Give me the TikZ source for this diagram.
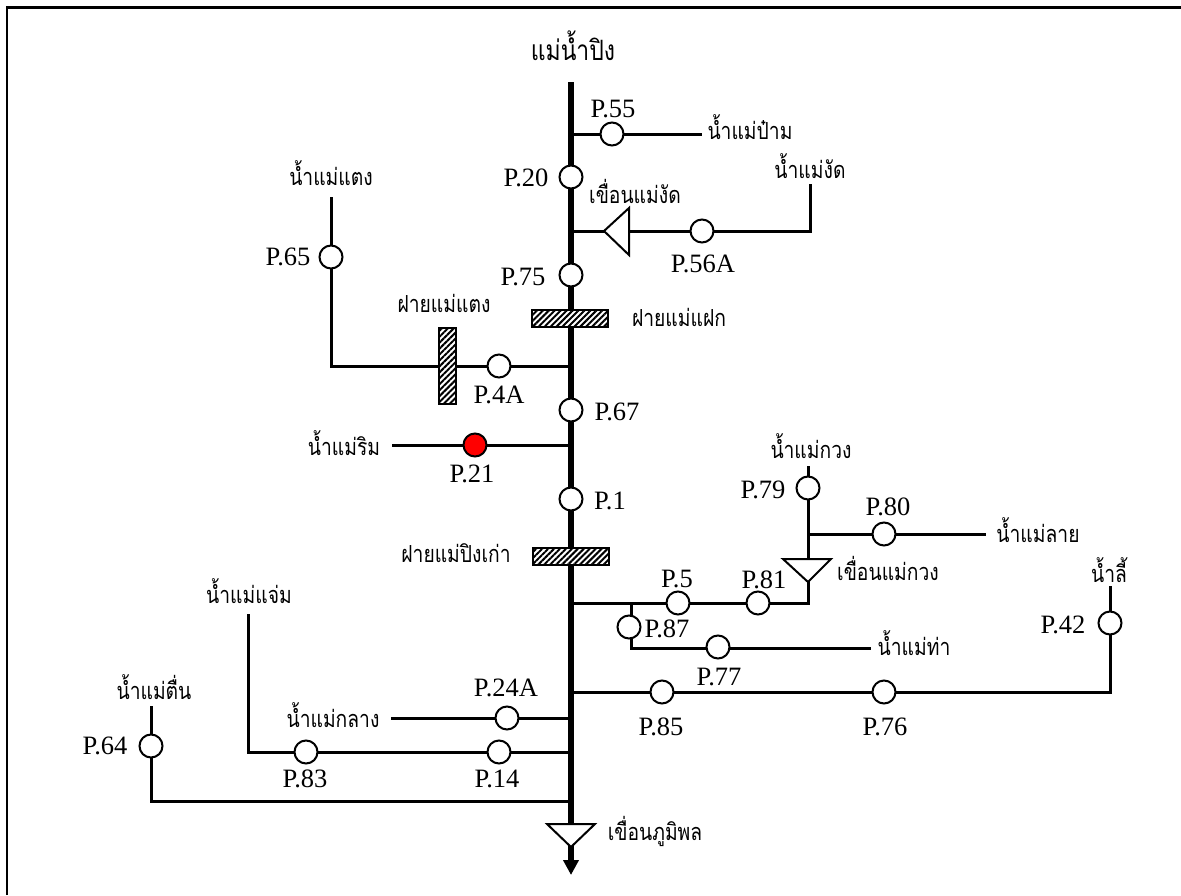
\documentclass[tikz,border=0pt]{standalone}
\usepackage{fontspec}
\setmainfont{Liberation Serif}
\newfontfamily\thaifont[Script=Thai,FakeStretch=0.82]{Loma}
\usetikzlibrary{arrows.meta,patterns.meta,backgrounds}
\tikzset{
  x=1pt,y=-1pt,
  gauge/.style={circle,draw=black,line width=2pt,fill=white,minimum size=23pt,inner sep=0pt},
  redgauge/.style={gauge,fill=red},
  codelabel/.style={font=\fontsize{26.5}{26.5}\selectfont,inner sep=0pt},
  thlabel/.style={font=\thaifont\fontsize{23.5}{23.5}\selectfont,inner sep=0pt},
  weir/.style={rectangle,draw=black,line width=1.8pt,inner sep=0pt,fill=white,
    postaction={pattern={Lines[angle=45,distance=4.2pt,line width=2pt]}}},
  river/.style={line width=3pt,line cap=butt,line join=miter},
  mainriver/.style={line width=5.5pt},
  dam/.style={draw=black,line width=2pt,fill=white,line join=miter},
}
\begin{document}
\begin{tikzpicture}
\useasboundingbox (0,0) rectangle (1181,895);
\coordinate (fBL) at (7,895); \coordinate (fTL) at (7,7.5); \coordinate (fTR) at (1181,7.5);
\draw[line width=2.4pt] (fBL)--(fTL)--(fTR);

% gauges
\node[gauge] (p55) at (612,134) {};
\node[gauge] (p20) at (571,177) {};
\node[gauge] (p56a) at (702,231) {};
\node[gauge] (p75) at (571,275) {};
\node[gauge] (p65) at (331,257) {};
\node[gauge] (p4a) at (499,366) {};
\node[gauge] (p67) at (571,410) {};
\node[redgauge] (p21) at (475,445) {};
\node[gauge] (p1) at (571,499) {};
\node[gauge] (p79) at (808,488) {};
\node[gauge] (p80) at (884,534) {};
\node[gauge] (p5) at (678,603) {};
\node[gauge] (p81) at (758,603) {};
\node[gauge] (p87) at (629,627) {};
\node[gauge] (p77) at (718,647) {};
\node[gauge] (p42) at (1110,623) {};
\node[gauge] (p85) at (662,692) {};
\node[gauge] (p76) at (884,692) {};
\node[gauge] (p24a) at (507,718) {};
\node[gauge] (p83) at (306,752) {};
\node[gauge] (p14) at (499,752) {};
\node[gauge] (p64) at (151,746) {};

% weirs
\node[weir,minimum width=76pt,minimum height=17pt] (wfak) at (570,318.5) {};
\node[weir,minimum width=76pt,minimum height=17pt] (wping) at (571,556.5) {};
\node[weir,minimum width=17pt,minimum height=76pt] (wtaeng) at (447.5,366) {};

% code labels
\node[codelabel] (l55) at (613,109) {P.55};
\node[codelabel] (l20) at (526,178) {P.20};
\node[codelabel] (l56a) at (703,264) {P.56A};
\node[codelabel] (l75) at (523,277) {P.75};
\node[codelabel] (l65) at (288,257) {P.65};
\node[codelabel] (l4a) at (499,395) {P.4A};
\node[codelabel] (l67) at (617,412) {P.67};
\node[codelabel] (l21) at (472,474) {P.21};
\node[codelabel] (l1) at (610,501) {P.1};
\node[codelabel] (l79) at (763,490) {P.79};
\node[codelabel] (l80) at (888,507) {P.80};
\node[codelabel] (l5) at (677,579) {P.5};
\node[codelabel] (l81) at (764,580) {P.81};
\node[codelabel] (l87) at (667,629) {P.87};
\node[codelabel] (l77) at (719,677) {P.77};
\node[codelabel] (l42) at (1063,625) {P.42};
\node[codelabel] (l85) at (661,727) {P.85};
\node[codelabel] (l76) at (885,727) {P.76};
\node[codelabel] (l24a) at (506,688) {P.24A};
\node[codelabel] (l83) at (305,779) {P.83};
\node[codelabel] (l14) at (497,779) {P.14};
\node[codelabel] (l64) at (105,746) {P.64};

% names
\node[thlabel,font=\thaifont\fontsize{28}{28}\selectfont] (nping) at (573,46) {แม่น้ำปิง};
\node[thlabel] (npam) at (750,127) {น้ำแม่ป๋าม};
\node[thlabel] (ngat) at (810,166) {น้ำแม่งัด};
\node[thlabel] (dgat) at (635,191) {เขื่อนแม่งัด};
\node[thlabel] (ntaeng) at (331,173) {น้ำแม่แตง};
\node[thlabel] (ftaeng) at (444,303) {ฝายแม่แตง};
\node[thlabel] (ffak) at (679,317) {ฝายแม่แฝก};
\node[thlabel] (nrim) at (344,443) {น้ำแม่ริม};
\node[thlabel] (nkuang) at (811,446) {น้ำแม่กวง};
\node[thlabel] (nlai) at (1038,530) {น้ำแม่ลาย};
\node[thlabel] (dkuang) at (888,568) {เขื่อนแม่กวง};
\node[thlabel] (fping) at (456,553) {ฝายแม่ปิงเก่า};
\node[thlabel] (nli) at (1109,570) {น้ำลี้};
\node[thlabel] (ntha) at (914,643) {น้ำแม่ท่า};
\node[thlabel] (ncham) at (249,591) {น้ำแม่แจ่ม};
\node[thlabel] (nklang) at (333,715) {น้ำแม่กลาง};
\node[thlabel] (ntuen) at (154,687) {น้ำแม่ตื่น};
\node[thlabel] (dbhumi) at (655,831) {เขื่อนภูมิพล};

% dams
\coordinate (dg1) at (604,231); \coordinate (dg2) at (629,208); \coordinate (dg3) at (629,255);
\coordinate (dk1) at (808,582); \coordinate (dk2) at (783,559); \coordinate (dk3) at (831,559);
\coordinate (db1) at (571,847); \coordinate (db2) at (547,824); \coordinate (db3) at (595,824);
\draw[dam] (dg1)--(dg2)--(dg3)--cycle;
\draw[dam] (dk1)--(dk2)--(dk3)--cycle;

% junctions and free ends
\coordinate (mtop) at (571,82);
\coordinate (mend) at (571,875);
\coordinate (j55) at (571,134); \coordinate (e55) at (702,134);
\coordinate (jg) at (571,231); \coordinate (cg) at (810,231); \coordinate (eg) at (810,184);
\coordinate (j4a) at (571,366); \coordinate (c4a) at (331,366); \coordinate (et) at (331,197);
\coordinate (j21) at (571,445); \coordinate (e21) at (392,445);
\coordinate (j5) at (571,603); \coordinate (c5) at (808,603);
\coordinate (ek) at (808,466);
\coordinate (j80) at (808,534); \coordinate (e80) at (986,534);
\coordinate (j87) at (631,603); \coordinate (c87) at (631,648); \coordinate (e87) at (871,648);
\coordinate (j85) at (571,692); \coordinate (c85) at (1110,692); \coordinate (eli) at (1110,586);
\coordinate (j24) at (571,718); \coordinate (e24) at (391,718);
\coordinate (j14) at (571,752); \coordinate (c14) at (248,752); \coordinate (e14) at (248,614);
\coordinate (j64) at (571,801); \coordinate (c64) at (151,801); \coordinate (e64) at (151,706);

\begin{scope}[on background layer]
  \draw[river] (j55)--(e55);
  \draw[river] (jg)--(cg)--(eg);
  \draw[river] (j4a)--(c4a)--(et);
  \draw[river] (j21)--(e21);
  \draw[river] (j5)--(c5)--(ek);
  \draw[river] (j80)--(e80);
  \draw[river] (j87)--(c87)--(e87);
  \draw[river] (j85)--(c85)--(eli);
  \draw[river] (j24)--(e24);
  \draw[river] (j14)--(c14)--(e14);
  \draw[river] (j64)--(c64)--(e64);
  \draw[mainriver,-{Triangle[length=15pt,width=15pt]}] (mtop)--(mend);
\end{scope}
\draw[dam] (db1)--(db2)--(db3)--cycle;
\end{tikzpicture}
\end{document}
